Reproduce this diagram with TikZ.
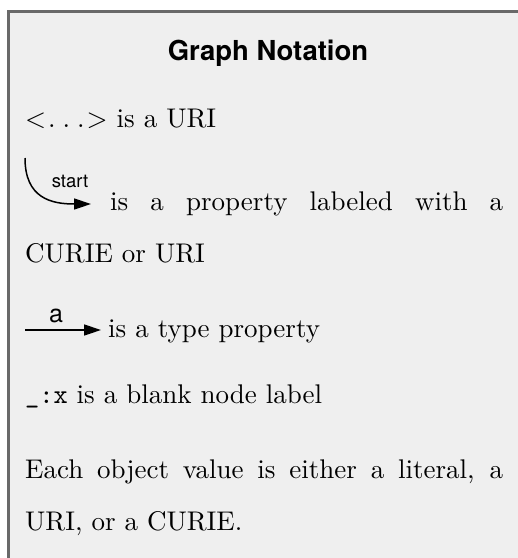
\documentclass[tikz,border=0pt]{standalone}
\usepackage{fontspec}
\setmainfont{lmroman10-regular.otf}
\setsansfont{TeX Gyre Heros}
\setmonofont{lmmono10-regular.otf}
\usetikzlibrary{arrows.meta, positioning}
\definecolor{legendfill}{HTML}{EFEFEF}
\definecolor{legendrule}{HTML}{696969}

\begin{document}
\begin{tikzpicture}[
    x=1pt, y=-1pt,
    legend/.style={draw=legendrule, line width=3pt, fill=legendfill},
    heading/.style={font=\sffamily\bfseries\fontsize{27.5}{30}\selectfont, inner sep=0pt, anchor=base},
    entry/.style={font=\fontsize{27}{52}\selectfont, text width=478pt, align=justify, inner sep=0pt, anchor=base west},
    arclabel/.style={font=\sffamily\fontsize{18.5}{20}\selectfont, inner sep=0pt, anchor=base},
    typelabel/.style={font=\sffamily\fontsize{25}{28}\selectfont, inner sep=0pt, anchor=base},
    legarrow/.style={-{Triangle[length=17pt,width=11pt]}, line width=1.5pt}
  ]
    \useasboundingbox (0,0) rectangle (518,558);
    \fill[white] (0,0) rectangle (518,558);
    \clip (0,0) rectangle (518,558);
    \draw[legend] (8.5,11.5) rectangle (529.5,580);

    \node[heading] (title) at (268,60) {Graph Notation};

    % URIs
    \node[entry] (uri) at (25,127) {{<}\hspace{2pt}.\hspace{7pt}.\hspace{7pt}.\hspace{2pt}{>} is a URI};

    % properties
    \coordinate (propstart) at (25,158);
    \coordinate (proptip) at (91,204);
    \draw[legarrow] (propstart) .. controls +(0,40) and +(-40,0) .. (proptip);
    \node[arclabel] (startlbl) at (70,187) {start};
    \node[entry] (prop) at (25,210) {\hspace*{85pt}is a property labeled with a\linebreak CURIE or URI};

    % type property
    \coordinate (typestart) at (25,330);
    \coordinate (typetip) at (101,330);
    \draw[legarrow] (typestart) -- (typetip);
    \node[typelabel] (albl) at (56,322) {a};
    \node[entry] (typeprop) at (108,337) {is a type property};

    % blank nodes and objects
    \node[entry] (blank) at (25,403) {\texttt{\_:x} is a blank node label};
    \node[entry] (objval) at (25,478) {Each object value is either a literal, a\linebreak URI, or a CURIE.};
\end{tikzpicture}
\end{document}
